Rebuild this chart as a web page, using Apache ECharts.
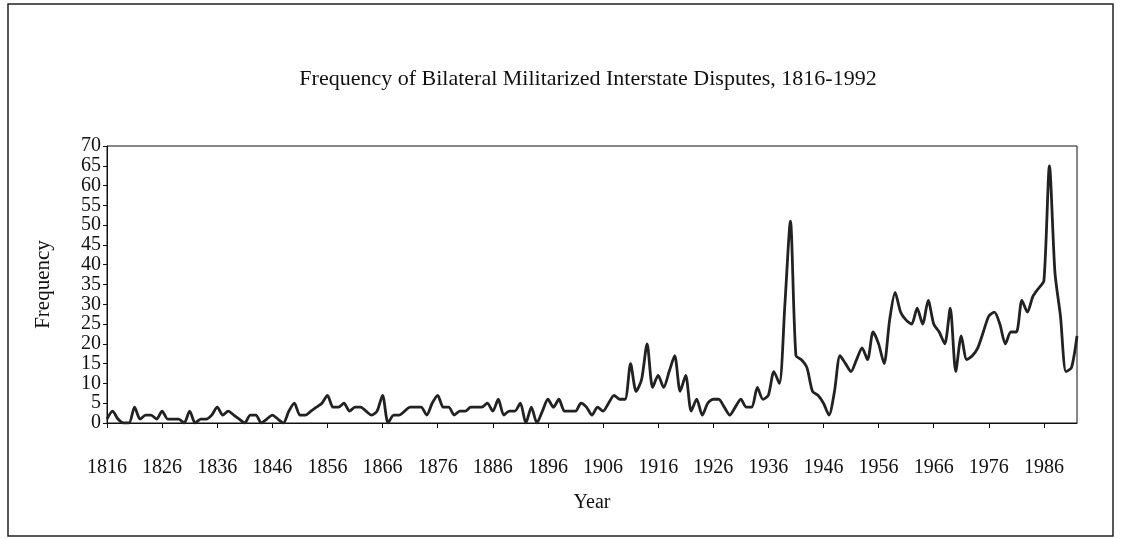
<!DOCTYPE html>
<html>
<head>
<meta charset="utf-8">
<script src="https://cdn.jsdelivr.net/npm/echarts@6/dist/echarts.min.js"></script>
<style>
html,body{margin:0;padding:0;background:#fff;}
#chart{width:1121px;height:539px;}
</style>
</head>
<body>
<div id="chart"></div>
<script>
var titleText = 'Frequency of Bilateral Militarized Interstate Disputes, 1816-1992';
var xName = 'Year';
var yName = 'Frequency';
var firstYear = 1816;
var lastYear = 1992;
var yMin = 0;
var yMax = 70;
var frequency = [
  1, 3, 1, 0, 0, 4, 1, 2, 2, 1,
  3, 1, 1, 1, 0, 3, 0, 1, 1, 2,
  4, 2, 3, 2, 1, 0, 2, 2, 0, 1,
  2, 1, 0, 3, 5, 2, 2, 3, 4, 5,
  7, 4, 4, 5, 3, 4, 4, 3, 2, 3,
  7, 0, 2, 2, 3, 4, 4, 4, 2, 5,
  7, 4, 4, 2, 3, 3, 4, 4, 4, 5,
  3, 6, 2, 3, 3, 5, 0, 4, 0, 3,
  6, 4, 6, 3, 3, 3, 5, 4, 2, 4,
  3, 5, 7, 6, 6, 15, 8, 11, 20, 9,
  12, 9, 13, 17, 8, 12, 3, 6, 2, 5,
  6, 6, 4, 2, 4, 6, 4, 4, 9, 6,
  7, 13, 10, 30, 51, 17, 16, 14, 8, 7,
  5, 2, 8, 17, 15, 13, 16, 19, 16, 23,
  20, 15, 26, 33, 28, 26, 25, 29, 25, 31,
  25, 23, 20, 29, 13, 22, 16, 17, 19, 23,
  27, 28, 25, 20, 23, 23, 31, 28, 32, 34,
  36, 65, 38, 27, 13, 14, 22
];
var years = [];
for (var y = firstYear; y <= lastYear; y++) years.push(String(y));

var serif = '"Liberation Serif", "Times New Roman", serif';
var labelFont = {fontFamily: serif, fontSize: 20, color: '#111'};
var chart = echarts.init(document.getElementById('chart'), null, {renderer: 'canvas'});
chart.setOption({
  backgroundColor: '#ffffff',
  animation: false,
  graphic: [
    {type: 'rect', shape: {x: 8, y: 4, width: 1105, height: 532},
     style: {fill: 'none', stroke: '#222', lineWidth: 1.5}, silent: true},
    {type: 'text', x: 588, y: 79,
     style: {text: titleText, textAlign: 'center', textVerticalAlign: 'middle',
             font: '22px ' + serif, fill: '#111'}}
  ],
  grid: {left: 107, right: 44, top: 146, bottom: 116, show: true,
         borderColor: '#111', borderWidth: 1, backgroundColor: 'transparent'},
  xAxis: {
    type: 'category', data: years, boundaryGap: false,
    name: xName, nameLocation: 'middle', nameGap: 70,
    nameTextStyle: {fontFamily: serif, fontSize: 20, color: '#111'},
    axisLine: {lineStyle: {color: '#111', width: 1}},
    axisTick: {show: true, interval: 9, length: 5, lineStyle: {color: '#111'}},
    axisLabel: Object.assign({interval: 9, margin: 35}, labelFont),
    splitLine: {show: false}
  },
  yAxis: [{
    type: 'value', min: yMin, max: yMax, interval: 10, position: 'left',
    name: yName, nameLocation: 'middle', nameGap: 53, nameRotate: 90,
    nameTextStyle: {fontFamily: serif, fontSize: 21, color: '#111'},
    axisLine: {show: true, lineStyle: {color: '#111', width: 1}},
    axisTick: {show: true, length: 4, lineStyle: {color: '#111'}},
    axisLabel: Object.assign({margin: 6, showMinLabel: true, showMaxLabel: true}, labelFont),
    splitLine: {show: false}
  }, {
    type: 'value', min: yMin, max: yMax, interval: 5, position: 'left', offset: 0,
    axisLine: {show: false},
    axisTick: {show: true, length: 4, lineStyle: {color: '#111'}},
    axisLabel: Object.assign({margin: 6, showMinLabel: false, showMaxLabel: false,
      formatter: function (v) { return v % 10 === 0 ? '' : String(v); }}, labelFont),
    splitLine: {show: false}
  }],
  series: [{
    type: 'line', data: frequency, yAxisIndex: 0, smooth: 0.25, symbol: 'none',
    lineStyle: {color: '#222', width: 2.8}
  }]
});
</script>
</body>
</html>
